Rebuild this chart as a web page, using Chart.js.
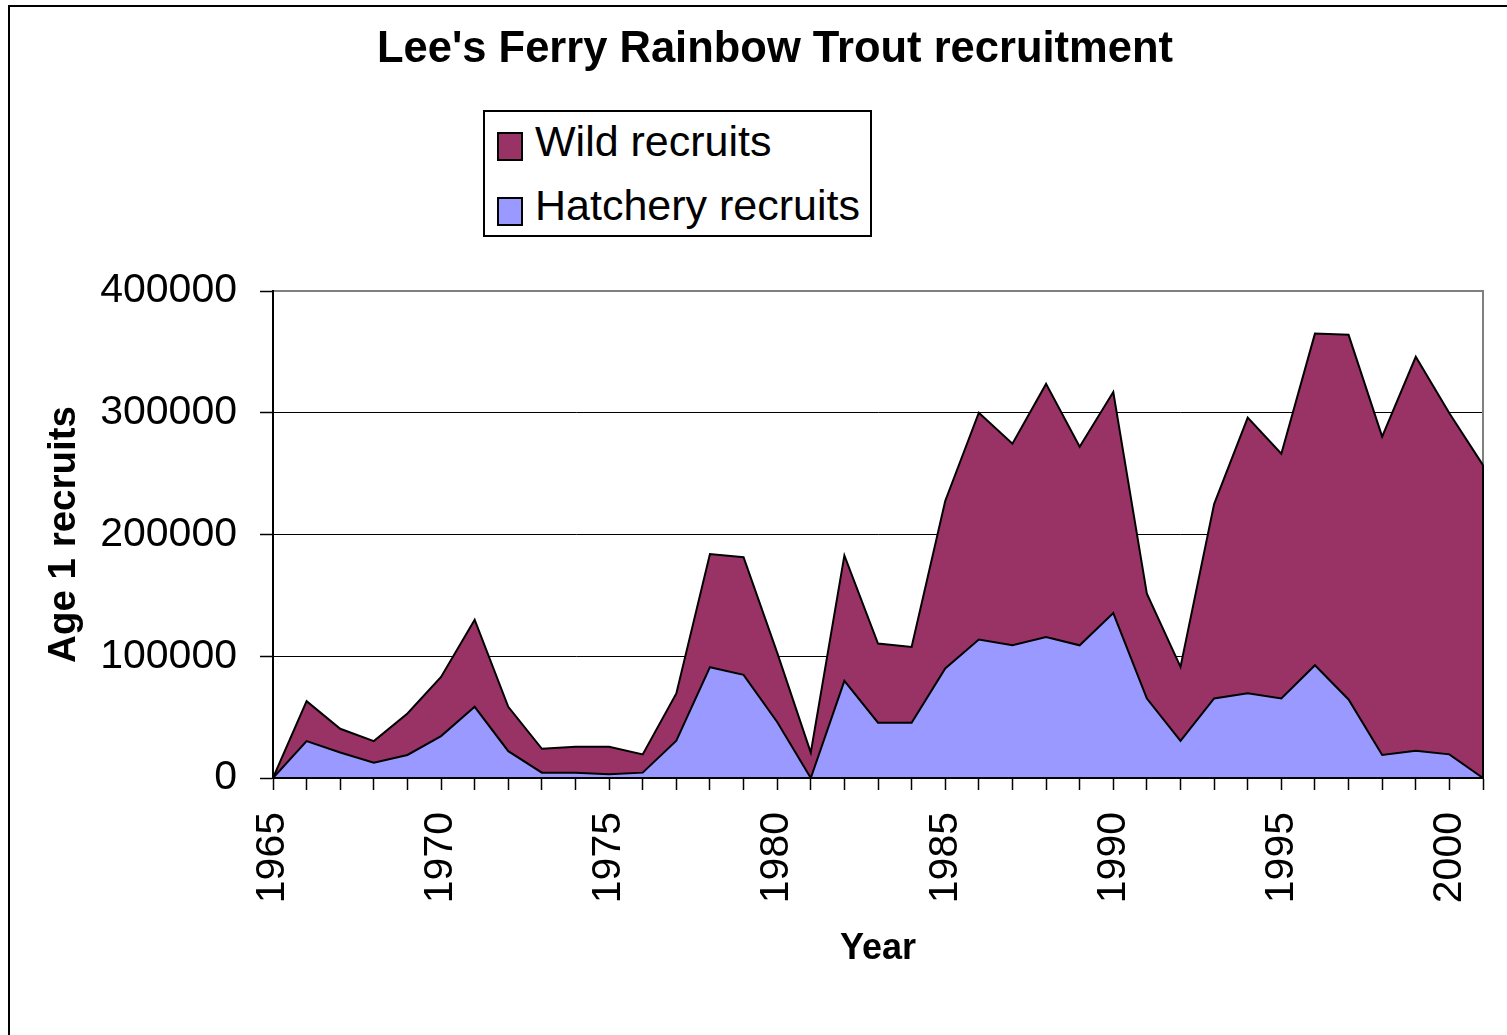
<!DOCTYPE html>
<html>
<head>
<meta charset="utf-8">
<title>Lee's Ferry Rainbow Trout recruitment</title>
<script src="https://cdn.jsdelivr.net/npm/chart.js@4/dist/chart.umd.min.js"></script>
<style>
html, body { margin: 0; padding: 0; background: #fff; overflow: hidden; }
body { width: 1507px; height: 1035px; position: relative; font-family: Arial, "Liberation Sans", sans-serif; color: #000; }
#frame { position: absolute; left: 8px; top: 5px; width: 1600px; height: 1100px; border: 2px solid #000; }
#wrap { position: absolute; left: 0; top: 0; width: 1507px; height: 1035px; }
#title { position: absolute; left: 775px; top: 25px; transform: translateX(-50%); font-size: 43.5px; font-weight: bold; line-height: 44px; white-space: nowrap; }
#legend { position: absolute; left: 483px; top: 110px; width: 389px; height: 127px; box-sizing: border-box; border: 2px solid #000; background: #fff; }
.swatch { position: absolute; left: 12px; width: 26px; height: 29px; box-sizing: border-box; border: 2px solid #000; }
.label { position: absolute; left: 50px; font-size: 43px; line-height: 43px; white-space: nowrap; }
</style>
</head>
<body>
<div id="frame"></div>
<div id="wrap"><canvas id="myChart" width="1507" height="1035"></canvas></div>
<div id="title">Lee's Ferry Rainbow Trout recruitment</div>
<div id="legend">
  <div class="swatch" style="top:20px;background:#993366"></div>
  <div class="label" style="top:8px">Wild recruits</div>
  <div class="swatch" style="top:85px;background:#9999ff"></div>
  <div class="label" style="top:72px">Hatchery recruits</div>
</div>
<script>
// anos 1965..2001
const anos = ['1965','1966','1967','1968','1969','1970','1971','1972','1973','1974',
    '1975','1976','1977','1978','1979','1980','1981','1982','1983','1984',
    '1985','1986','1987','1988','1989','1990','1991','1992','1993','1994',
    '1995','1996','1997','1998','1999','2000','2001'];

// recrutas de incubadora (camada de baixo)
const hatcheryRecruits = [0, 30300, 21000, 12500, 18900, 34400, 58500, 22000, 4400, 4400,
    3000, 4400, 30600, 91000, 84700, 46000, 0, 79800, 45400, 45400,
    90000, 113800, 109000, 115800, 109000, 135500, 65300, 30400, 65300, 69500,
    65300, 92600, 64500, 18900, 22400, 19400, 0];

// recrutas selvagens (empilhados por cima)
const wildRecruits = [0, 32800, 19400, 17800, 34100, 48600, 71500, 36500, 19600, 21300,
    22700, 15000, 38800, 93000, 96700, 57000, 20800, 103000, 65000, 62200,
    137500, 186200, 165600, 207900, 163000, 181500, 86000, 60900, 159700, 226500,
    201100, 272400, 299500, 261500, 323600, 280200, 257000];

const yTicks = [0, 100000, 200000, 300000, 400000];
const xTickLabels = ['1965','1970','1975','1980','1985','1990','1995','2000'];

Chart.defaults.color = '#000';
Chart.defaults.font.family = 'Arial, "Liberation Sans", sans-serif';

// moldura cinza do plot + bordas pretas por cima da area
const moldura = {
    id: 'moldura',
    beforeDatasetsDraw(chart) {
        const { ctx, chartArea: a } = chart;
        ctx.save();
        ctx.strokeStyle = '#808080';
        ctx.lineWidth = 2;
        ctx.beginPath();
        ctx.moveTo(a.left, a.top);
        ctx.lineTo(a.right, a.top);
        ctx.lineTo(a.right, a.bottom);
        ctx.stroke();
        ctx.restore();
    },
    afterDatasetsDraw(chart) {
        const { ctx, chartArea: a } = chart;
        const topo = chart.getDatasetMeta(1).data;
        const ultimo = topo[topo.length - 1];
        ctx.save();
        ctx.strokeStyle = '#000';
        ctx.lineWidth = 2;
        ctx.beginPath();
        ctx.moveTo(ultimo.x, ultimo.y);
        ctx.lineTo(a.right, a.bottom);
        ctx.stroke();
        ctx.beginPath();
        ctx.moveTo(a.left, a.top - 1);
        ctx.lineTo(a.left, a.bottom);
        ctx.lineTo(a.right + 1, a.bottom);
        ctx.stroke();
        ctx.restore();
    }
};

function criarGrafico() {
    const ctx = document.getElementById('myChart');
    new Chart(ctx, {
        type: 'line',
        data: {
            labels: anos,
            datasets: [{
                label: 'Hatchery recruits',
                data: hatcheryRecruits,
                backgroundColor: '#9999ff',
                borderColor: '#000',
                borderWidth: 2,
                pointRadius: 0,
                tension: 0,
                fill: 'origin'
            }, {
                label: 'Wild recruits',
                data: wildRecruits,
                backgroundColor: '#993366',
                borderColor: '#000',
                borderWidth: 2,
                pointRadius: 0,
                tension: 0,
                fill: '-1'
            }]
        },
        options: {
            responsive: false,
            animation: false,
            layout: { padding: { left: 20, right: 24, top: 291, bottom: 0 } },
            plugins: {
                legend: { display: false },
                title: { display: false },
                tooltip: { enabled: false }
            },
            scales: {
                x: {
                    offset: false,
                    grid: { drawOnChartArea: false, drawTicks: true, tickLength: 12, tickColor: '#000', tickWidth: 1.5 },
                    border: { display: true, color: '#000', width: 2 },
                    ticks: {
                        autoSkip: false,
                        maxRotation: 90,
                        minRotation: 90,
                        padding: 22,
                        font: { size: 41 },
                        callback: function (v, i) {
                            const l = anos[i];
                            return xTickLabels.includes(l) ? l : '';
                        }
                    },
                    title: { display: true, text: 'Year', font: { size: 36, weight: 'bold' }, padding: { top: 0, bottom: 64 } },
                    afterFit: function (s) {
                        s.height = 257;
                        s.paddingLeft = 0;
                        s.paddingRight = 0;
                    }
                },
                y: {
                    stacked: true,
                    min: 0,
                    max: 400000,
                    afterBuildTicks: function (s) { s.ticks = yTicks.map(v => ({ value: v })); },
                    grid: {
                        color: c => (c.tick && c.tick.value === 400000) ? 'rgba(0,0,0,0)' : '#000',
                        lineWidth: 1,
                        tickLength: 13,
                        tickColor: '#000',
                        tickWidth: 1.5
                    },
                    border: { display: true, color: '#000', width: 2 },
                    ticks: { padding: 23, font: { size: 41 }, callback: v => String(v) },
                    title: { display: true, text: 'Age 1 recruits', font: { size: 38.5, weight: 'bold' }, padding: { top: 21, bottom: 0 } },
                    afterFit: function (s) {
                        s.width = 253;
                        s.paddingTop = 0;
                        s.paddingBottom = 0;
                    }
                }
            }
        },
        plugins: [moldura]
    });
}
criarGrafico();
</script>
</body>
</html>
